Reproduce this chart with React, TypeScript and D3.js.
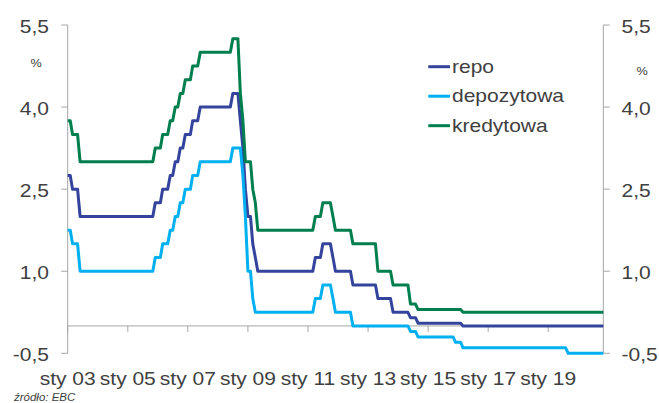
import React from 'react';
import * as d3 from 'd3';

// stopy EBC, wartosci na koniec miesiaca (wierzcholki lamanej)
const repo: [string, number][] = [
  ['2003-01', 2.75], ['2003-02', 2.75], ['2003-03', 2.5], ['2003-05', 2.5], ['2003-06', 2.0],
  ['2005-11', 2.0], ['2005-12', 2.25], ['2006-02', 2.25], ['2006-03', 2.5], ['2006-05', 2.5],
  ['2006-06', 2.75], ['2006-07', 2.75], ['2006-08', 3.0], ['2006-09', 3.0], ['2006-10', 3.25],
  ['2006-11', 3.25], ['2006-12', 3.5], ['2007-02', 3.5], ['2007-03', 3.75], ['2007-05', 3.75],
  ['2007-06', 4.0], ['2008-06', 4.0], ['2008-07', 4.25], ['2008-09', 4.25], ['2008-10', 3.75],
  ['2008-11', 3.25], ['2008-12', 2.5], ['2009-01', 2.0], ['2009-02', 2.0], ['2009-03', 1.5],
  ['2009-04', 1.25], ['2009-05', 1.0], ['2011-03', 1.0], ['2011-04', 1.25], ['2011-06', 1.25],
  ['2011-07', 1.5], ['2011-10', 1.5], ['2011-11', 1.25], ['2011-12', 1.0], ['2012-06', 1.0],
  ['2012-07', 0.75], ['2013-04', 0.75], ['2013-05', 0.5], ['2013-10', 0.5], ['2013-11', 0.25],
  ['2014-05', 0.25], ['2014-06', 0.15], ['2014-08', 0.15], ['2014-09', 0.05], ['2016-02', 0.05],
  ['2016-03', 0.0], ['2020-11', 0.0],
];

const depozytowa: [string, number][] = [
  ['2003-01', 1.75], ['2003-02', 1.75], ['2003-03', 1.5], ['2003-05', 1.5], ['2003-06', 1.0],
  ['2005-11', 1.0], ['2005-12', 1.25], ['2006-02', 1.25], ['2006-03', 1.5], ['2006-05', 1.5],
  ['2006-06', 1.75], ['2006-07', 1.75], ['2006-08', 2.0], ['2006-09', 2.0], ['2006-10', 2.25],
  ['2006-11', 2.25], ['2006-12', 2.5], ['2007-02', 2.5], ['2007-03', 2.75], ['2007-05', 2.75],
  ['2007-06', 3.0], ['2008-06', 3.0], ['2008-07', 3.25], ['2008-10', 3.25], ['2008-11', 2.75],
  ['2008-12', 2.0], ['2009-01', 1.0], ['2009-02', 1.0], ['2009-03', 0.5], ['2009-04', 0.25],
  ['2011-03', 0.25], ['2011-04', 0.5], ['2011-06', 0.5], ['2011-07', 0.75], ['2011-10', 0.75],
  ['2011-11', 0.5], ['2011-12', 0.25], ['2012-06', 0.25], ['2012-07', 0.0], ['2014-05', 0.0],
  ['2014-06', -0.1], ['2014-08', -0.1], ['2014-09', -0.2], ['2015-11', -0.2], ['2015-12', -0.3],
  ['2016-02', -0.3], ['2016-03', -0.4], ['2019-08', -0.4], ['2019-09', -0.5], ['2020-11', -0.5],
];

const kredytowa: [string, number][] = [
  ['2003-01', 3.75], ['2003-02', 3.75], ['2003-03', 3.5], ['2003-05', 3.5], ['2003-06', 3.0],
  ['2005-11', 3.0], ['2005-12', 3.25], ['2006-02', 3.25], ['2006-03', 3.5], ['2006-05', 3.5],
  ['2006-06', 3.75], ['2006-07', 3.75], ['2006-08', 4.0], ['2006-09', 4.0], ['2006-10', 4.25],
  ['2006-11', 4.25], ['2006-12', 4.5], ['2007-02', 4.5], ['2007-03', 4.75], ['2007-05', 4.75],
  ['2007-06', 5.0], ['2008-06', 5.0], ['2008-07', 5.25], ['2008-09', 5.25], ['2008-10', 4.25],
  ['2008-11', 3.75], ['2008-12', 3.0], ['2009-02', 3.0], ['2009-03', 2.5], ['2009-04', 2.25],
  ['2009-05', 1.75], ['2011-03', 1.75], ['2011-04', 2.0], ['2011-06', 2.0], ['2011-07', 2.25],
  ['2011-10', 2.25], ['2011-11', 2.0], ['2011-12', 1.75], ['2012-06', 1.75], ['2012-07', 1.5],
  ['2013-04', 1.5], ['2013-05', 1.0], ['2013-10', 1.0], ['2013-11', 0.75], ['2014-05', 0.75],
  ['2014-06', 0.4], ['2014-08', 0.4], ['2014-09', 0.3], ['2016-02', 0.3], ['2016-03', 0.25],
  ['2020-11', 0.25],
];

const seriesNames = ['repo', 'depozytowa', 'kredytowa'];
const seriesColors = ['#34449C', '#00B0F0', '#007F4E'];
const yTicks = [-0.5, 1.0, 2.5, 4.0, 5.5];
const xTickYears = [2003, 2005, 2007, 2009, 2011, 2013, 2015, 2017, 2019];

const W = 659;
const H = 403;
const FONT = "'Liberation Sans', Arial, sans-serif";
const TEXT = '#404040';
const AXIS = '#A6A6A6';
const SX = 1.2; // tekst jest rozciagniety w poziomie

const parseMonth = d3.timeParse('%Y-%m');
// zwykly myslnik zamiast znaku minus d3
const fmt = (v: number) => d3.format('.1f')(v).replace('.', ',').replace('\u2212', '-');

const Txt = ({ x, y, anchor = 'start', size = 17.5, sx = SX, italic = false, children }: any) => (
  <text
    transform={`translate(${x},${y}) scale(${sx},1)`}
    textAnchor={anchor}
    fontFamily={FONT}
    fontSize={size}
    fontStyle={italic ? 'italic' : 'normal'}
    fill={TEXT}
  >
    {children}
  </text>
);

export default function App() {
  const x = d3.scaleTime()
    .domain([new Date(2003, 0, 1), new Date(2020, 10, 1)])
    .range([67.7, 603.3]);
  const y = d3.scaleLinear().domain([-0.5, 5.5]).range([353.3, 25]);

  const line = d3.line<[string, number]>()
    .x(d => x(parseMonth(d[0]) as Date))
    .y(d => y(d[1]));

  const data = [repo, depozytowa, kredytowa];
  const [x0, x1] = x.range();
  const zeroY = y(0);

  return (
    <svg width={W} height={H} style={{ position: 'absolute', left: 0, top: 0, background: '#fff' }}>
      {/* osie */}
      <line x1={x0} x2={x0} y1={y(5.5)} y2={y(-0.5)} stroke={AXIS} strokeWidth={1} />
      <line x1={x1} x2={x1} y1={y(5.5)} y2={y(-0.5)} stroke={AXIS} strokeWidth={1} />
      <line x1={x0} x2={x1} y1={zeroY} y2={zeroY} stroke={AXIS} strokeWidth={1} />
      {yTicks.map(t => (
        <g key={t}>
          <line x1={x0 - 6.5} x2={x0} y1={y(t)} y2={y(t)} stroke={AXIS} />
          <line x1={x1} x2={x1 + 6.5} y1={y(t)} y2={y(t)} stroke={AXIS} />
          <Txt x={49} y={y(t) + 8} anchor="end">{fmt(t)}</Txt>
          <Txt x={621.5} y={y(t) + 8}>{fmt(t)}</Txt>
        </g>
      ))}
      {xTickYears.map(yr => {
        const px = x(new Date(yr, 0, 1));
        return (
          <g key={yr}>
            <line x1={px} x2={px} y1={zeroY} y2={zeroY + 6} stroke={AXIS} />
            <Txt x={px} y={385} anchor="middle">{`sty ${String(yr).slice(2)}`}</Txt>
          </g>
        );
      })}
      <Txt x={36} y={66.5} anchor="middle" size={11.5} sx={1.1}>%</Txt>
      <Txt x={642} y={75} anchor="middle" size={11.5} sx={1.1}>%</Txt>

      {/* serie */}
      {data.map((s, i) => (
        <path
          key={seriesNames[i]}
          d={line(s) || ''}
          fill="none"
          stroke={seriesColors[i]}
          strokeWidth={3}
          strokeLinejoin="round"
        />
      ))}

      {/* legenda */}
      {seriesNames.map((n, i) => {
        const ly = 66.7 + i * 29.5;
        return (
          <g key={n}>
            <line x1={428.3} x2={450} y1={ly} y2={ly} stroke={seriesColors[i]} strokeWidth={3} />
            <Txt x={452} y={ly + 6}>{n}</Txt>
          </g>
        );
      })}

      <Txt x={14} y={401} size={10} sx={1.15} italic>źródło: EBC</Txt>
    </svg>
  );
}
